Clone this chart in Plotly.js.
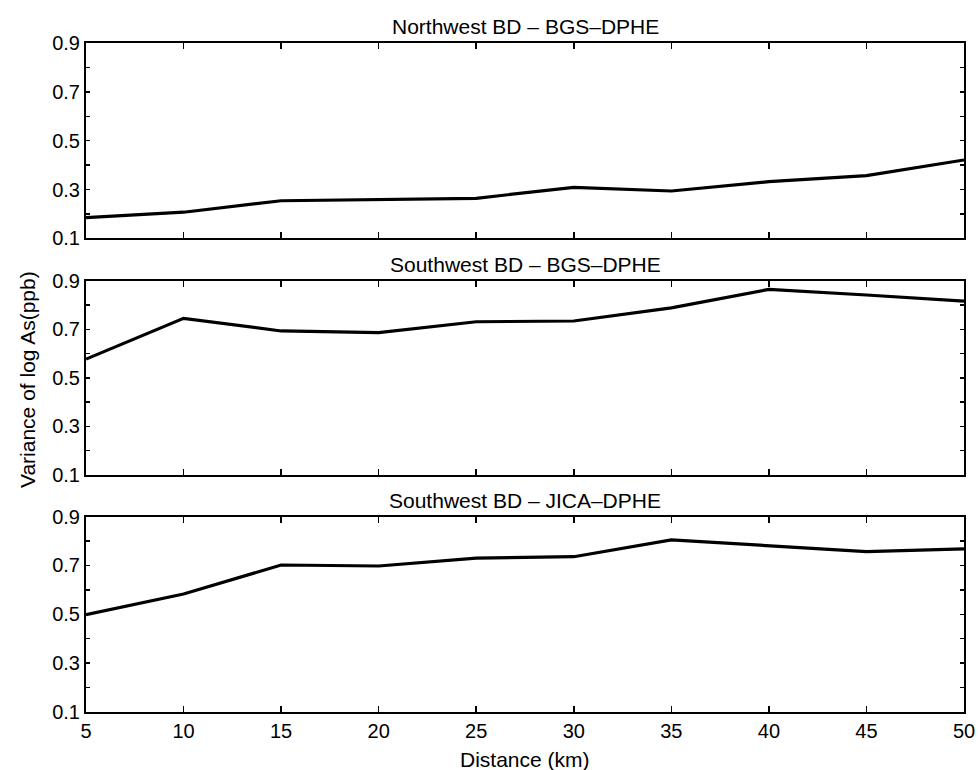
<!DOCTYPE html>
<html>
<head>
<meta charset="utf-8">
<script src="https://cdn.plot.ly/plotly-3.0.1.min.js"></script>
<style>html,body{margin:0;padding:0;background:#fff;}#chart{width:978px;height:770px;}</style>
</head>
<body>
<div id="chart"></div>
<script>
const distance = [5, 10, 15, 20, 25, 30, 35, 40, 45, 50];
const northwestBGS = [0.185, 0.207, 0.254, 0.260, 0.264, 0.309, 0.294, 0.332, 0.357, 0.421];
const southwestBGS = [0.577, 0.745, 0.693, 0.686, 0.731, 0.734, 0.788, 0.864, 0.841, 0.816];
const southwestJICA = [0.499, 0.583, 0.702, 0.698, 0.730, 0.736, 0.805, 0.781, 0.757, 0.768];
const panelTitles = ["Northwest BD \u2013 BGS\u2013DPHE", "Southwest BD \u2013 BGS\u2013DPHE", "Southwest BD \u2013 JICA\u2013DPHE"];
const yTickVals = [0.1, 0.3, 0.5, 0.7, 0.9];
const xTickVals = [5, 10, 15, 20, 25, 30, 35, 40, 45, 50];

const FONT = "Liberation Sans, Arial, Helvetica, sans-serif";
const series = [northwestBGS, southwestBGS, southwestJICA];
const domains = [[0.708, 1.0], [0.3543, 0.6447], [0.0, 0.292]];

const traces = series.map((ys, i) => ({
  x: distance, y: ys, type: 'scatter', mode: 'lines',
  xaxis: i === 0 ? 'x' : 'x' + (i + 1),
  yaxis: i === 0 ? 'y' : 'y' + (i + 1),
  line: {color: 'black', width: 3.2},
  showlegend: false, hoverinfo: 'skip'
}));

function xAxis(i) {
  return {
    domain: [0, 1], anchor: i === 0 ? 'y' : 'y' + (i + 1),
    range: [5, 50], tickvals: xTickVals, ticktext: xTickVals.map(String),
    ticks: 'inside', ticklen: 6, tickwidth: 1.5, tickcolor: 'black',
    showline: true, linecolor: 'black', linewidth: 2, mirror: 'ticks',
    showgrid: false, zeroline: false,
    showticklabels: i === 2,
    tickfont: {family: FONT, size: 20, color: 'black'}
  };
}
function yAxis(i) {
  return {
    domain: domains[i], anchor: i === 0 ? 'x' : 'x' + (i + 1),
    range: [0.1, 0.9], tickvals: yTickVals, ticktext: yTickVals.map(v => v.toFixed(1)),
    ticks: 'inside', ticklen: 4, tickwidth: 1.5, tickcolor: 'black',
    minor: {tickvals: [0.2, 0.4, 0.6, 0.8], ticks: 'inside', ticklen: 4, tickcolor: 'black', tickwidth: 1.5, showgrid: false},
    showline: true, linecolor: 'black', linewidth: 2, mirror: 'ticks',
    showgrid: false, zeroline: false,
    tickfont: {family: FONT, size: 20, color: 'black'}
  };
}

const layout = {
  width: 978, height: 770,
  margin: {l: 86, r: 14, t: 43, b: 58},
  paper_bgcolor: 'white', plot_bgcolor: 'white',
  font: {family: FONT, size: 20, color: 'black'},
  xaxis: xAxis(0), xaxis2: xAxis(1), xaxis3: xAxis(2),
  yaxis: yAxis(0), yaxis2: yAxis(1), yaxis3: yAxis(2),
  annotations: [
    ...panelTitles.map((t, i) => ({
      text: t, xref: 'paper', yref: 'paper', x: 0.5, y: domains[i][1],
      xanchor: 'center', yanchor: 'bottom', yshift: 3, showarrow: false,
      font: {family: FONT, size: 21, color: 'black'}
    })),
    {text: 'Variance of log As(ppb)', xref: 'paper', yref: 'paper', x: -0.066, y: 0.4963,
     xanchor: 'center', yanchor: 'middle', textangle: -90, showarrow: false,
     font: {family: FONT, size: 21, color: 'black'}},
    {text: 'Distance (km)', xref: 'paper', yref: 'paper', x: 0.5, y: -0.0703,
     xanchor: 'center', yanchor: 'middle', showarrow: false,
     font: {family: FONT, size: 21, color: 'black'}}
  ]
};

Plotly.newPlot('chart', traces, layout, {staticPlot: true, displayModeBar: false});
</script>
</body>
</html>
